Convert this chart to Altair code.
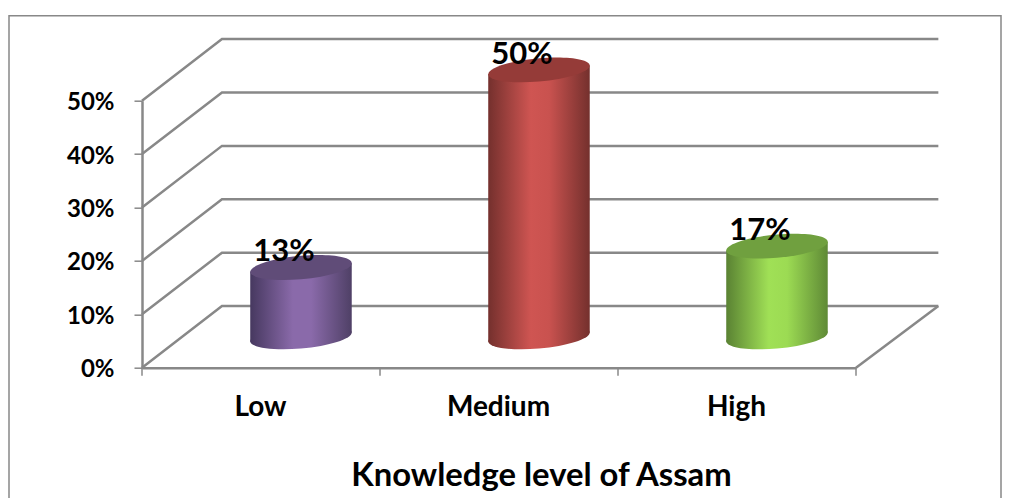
import altair as alt
import pandas as pd

categories = ["Low", "Medium", "High"]
values = [13, 50, 17]
labels = ["13%", "50%", "17%"]
grid_levels = [0, 10, 20, 30, 40, 50]
x_ticks = [0, 1, 2, 3]
body_stops = [
    ["#46385f", "#8a6aaa", "#8a6aaa", "#4f4066"],
    ["#74302d", "#cf5552", "#c9524f", "#74302d"],
    ["#5a8233", "#a0e056", "#9cdb53", "#5f8a36"],
]
cap_colors = ["#604c78", "#953b38", "#70a03f"]

DEPTH_X, DEPTH_Y = 0.336, 11.54
BACK_END = 3.346
CYL_W, TILT = 0.4265, 0.8
GRID = "#888888"
FONT = "Lato"

xs = alt.Scale(domain=[0, 3], nice=False, zero=False)
ys = alt.Scale(domain=[0, 50], nice=False, zero=False)


def ellipse_path(b=0.23, s=0.085, k=0.5523):
    pts = [(-1, 0), (-1, -k * b), (-k, -b), (0, -b), (k, -b), (1, -k * b), (1, 0),
           (1, k * b), (k, b), (0, b), (-k, b), (-1, k * b), (-1, 0)]
    sh = [(x, y - s * x) for x, y in pts]
    f = lambda p: f"{p[0]:.4f},{p[1]:.4f}"
    d = "M" + f(sh[0])
    for i in range(1, 13, 3):
        d += " C" + " ".join(f(p) for p in sh[i:i + 3])
    return d + " Z"


ELLIPSE = ellipse_path()


def gradient(cols):
    offs = [0, 0.42, 0.6, 1]
    return alt.LinearGradient(
        gradient="linear", x1=0, x2=1, y1=0, y2=0,
        stops=[alt.GradientStop(color=c, offset=o) for c, o in zip(cols, offs)],
    )


# Walls: side diagonals and back lines
wall_rows = []
for lv in grid_levels:
    wall_rows += [
        {"id": lv, "o": 0, "x": 0, "y": lv},
        {"id": lv, "o": 1, "x": DEPTH_X, "y": lv + DEPTH_Y},
        {"id": lv, "o": 2, "x": BACK_END, "y": lv + DEPTH_Y},
    ]
wall_rows += [
    {"id": 99, "o": 0, "x": 3, "y": 0},
    {"id": 99, "o": 1, "x": BACK_END, "y": DEPTH_Y},
]
walls = alt.Chart(pd.DataFrame(wall_rows)).mark_line(color=GRID, strokeWidth=2.5, clip=False).encode(
    x=alt.X("x:Q", scale=xs, axis=alt.Axis(
        values=[0.5, 1.5, 2.5],
        labelExpr="datum.value < 1 ? 'Low' : datum.value < 2 ? 'Medium' : 'High'",
        ticks=False, grid=False, domainColor=GRID, domainWidth=2.5,
        labelFont=FONT, labelFontSize=28, labelFontWeight="bold", labelColor="black",
        labelPadding=26, labelOffset=-1, labelAngle=0, labelFlush=False, labelOverlap=False,
        title="Knowledge level of Assam", titleFont=FONT, titleFontSize=32.8, titleFontWeight="bold",
        titleColor="black", titleX=399, titleY=92, titleAnchor="middle", titleAlign="center",
    )),
    y=alt.Y("y:Q", scale=ys, axis=alt.Axis(
        values=grid_levels, format="d", labelExpr="datum.value + '%'",
        grid=False, domainColor=GRID, domainWidth=2.5, tickColor=GRID, tickWidth=1.5, tickSize=8,
        labelFont=FONT, labelFontSize=24, labelFontWeight="bold", labelColor="black",
        labelPadding=20, labelOffset=2, labelOverlap=False, title=None, labelFlush=False,
    )),
    detail="id:N",
    order="o:O",
)

frame = alt.Chart(pd.DataFrame({"a": [0]})).mark_rect(
    fill="transparent", stroke=GRID, strokeWidth=1.5, clip=False
).encode(x=alt.value(-133), x2=alt.value(859), y=alt.value(-85), y2=alt.value(420))

# Ticks below the floor, including the stub under the vertical axis
xtick = alt.Chart(pd.DataFrame({"t": x_ticks})).mark_rule(color=GRID, strokeWidth=1.5).encode(
    x=alt.X("t:Q", scale=xs, axis=None), y=alt.value(267), y2=alt.value(275)
)

layers = [frame, walls, xtick]

for i, (cat, val) in enumerate(zip(categories, values)):
    c = i + 0.5 + DEPTH_X / 2
    base = DEPTH_Y / 2
    top = base + val
    fill = gradient(body_stops[i])
    body = alt.Chart(pd.DataFrame({
        "x": [c - CYL_W / 2, c + CYL_W / 2],
        "y": [top - TILT, top + TILT],
        "y2": [base - TILT, base + TILT],
    })).mark_area(color=fill, clip=False, line=False).encode(
        x=alt.X("x:Q", scale=xs, axis=None),
        y=alt.Y("y:Q", scale=ys, axis=None),
        y2="y2:Q",
    )
    def cap(yv, f):
        return alt.Chart(pd.DataFrame({"x": [c], "y": [yv]})).mark_point(
            shape=ELLIPSE, filled=True, fill=f, size=101.5 ** 2, strokeWidth=0, opacity=1, clip=False
        ).encode(
            x=alt.X("x:Q", scale=xs, axis=None),
            y=alt.Y("y:Q", scale=ys, axis=None),
        )
    layers += [cap(base, fill), body, cap(top, cap_colors[i])]

text_df = pd.DataFrame({
    "x": [i + 0.5 + DEPTH_X / 2 for i in range(3)],
    "y": [DEPTH_Y / 2 + v for v in values],
    "t": labels,
})
text = alt.Chart(text_df).mark_text(
    font=FONT, fontSize=31, fontWeight="bold", color="black", dx=-17, dy=-15, clip=False
).encode(
    x=alt.X("x:Q", scale=xs, axis=None),
    y=alt.Y("y:Q", scale=ys, axis=None),
    text="t:N",
)
layers.append(text)

chart = alt.layer(*layers).resolve_axis(x="independent", y="independent").properties(
    width=714, height=267,
    autosize=alt.AutoSizeParams(type="none"),
    padding={"left": 134, "top": 92.7, "right": 148, "bottom": 130.3},
    background="white",
).configure_view(stroke=None)

chart.save("out.html", embed_options={"renderer": "svg", "actions": False})
